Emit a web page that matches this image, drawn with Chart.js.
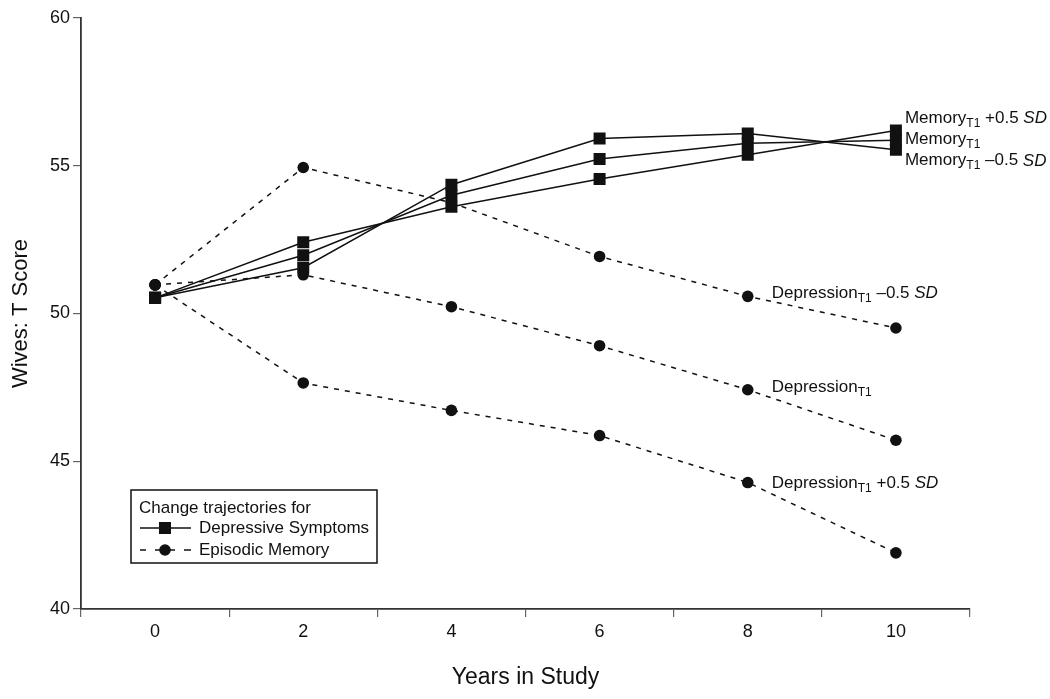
<!DOCTYPE html>
<html>
<head>
<meta charset="utf-8">
<title>Wives: T Score</title>
<script src="https://cdn.jsdelivr.net/npm/chart.js@4.4.0/dist/chart.umd.min.js"></script>
<style>
    html, body { margin: 0; padding: 0; background: #fff; }
    #wrap { width: 1050px; height: 699px; }
</style>
</head>
<body>
<div id="wrap"><canvas id="chart" width="1050" height="699"></canvas></div>
<script>
// Dati
const years = ['0', '2', '4', '6', '8', '10'];
const yTicks = [40, 45, 50, 55, 60];

// Depressive Symptoms (linee continue, quadrati)
const depMemHigh = [50.53, 52.41, 53.61, 54.55, 55.37, 56.19]; // Memory T1 +0.5 SD
const depMemMean = [50.53, 51.97, 54.00, 55.23, 55.76, 55.86]; // Memory T1
const depMemLow  = [50.53, 51.55, 54.36, 55.92, 56.09, 55.54]; // Memory T1 -0.5 SD

// Episodic Memory (linee tratteggiate, cerchi)
const memDepLow  = [50.97, 54.94, 53.75, 51.93, 50.58, 49.51]; // Depression T1 -0.5 SD
const memDepMean = [50.97, 51.31, 50.23, 48.91, 47.42, 45.71]; // Depression T1
const memDepHigh = [50.97, 47.65, 46.72, 45.87, 44.28, 41.90]; // Depression T1 +0.5 SD

const INK = '#111';
const FONT = '"Liberation Sans", Arial, Helvetica, sans-serif';
const DASH = [5, 6];

const solidSet = (data) => ({
    data,
    borderColor: INK,
    borderWidth: 1.5,
    pointStyle: 'rect',
    pointRadius: 8.5,
    pointBackgroundColor: INK,
    pointBorderColor: INK,
    pointBorderWidth: 0,
    fill: false,
    tension: 0
});

const dashedSet = (data) => ({
    data,
    borderColor: INK,
    borderWidth: 1.5,
    borderDash: DASH,
    pointStyle: 'circle',
    pointRadius: 5.8,
    pointBackgroundColor: INK,
    pointBorderColor: INK,
    pointBorderWidth: 0,
    fill: false,
    tension: 0
});

// Testo con pedice e corsivo
const drawRich = (ctx, x, y, parts, size) => {
    let cx = x;
    parts.forEach(p => {
        const fs = p.sub ? Math.round(size * 0.7) : size;
        ctx.font = (p.it ? 'italic ' : '') + fs + 'px ' + FONT;
        ctx.textBaseline = 'middle';
        ctx.textAlign = 'left';
        ctx.fillText(p.t, cx, p.sub ? y + size * 0.3 : y);
        cx += ctx.measureText(p.t).width;
    });
};

const labelsPlugin = {
    id: 'seriesLabels',
    afterDraw(chart) {
        const ctx = chart.ctx;
        const xs = chart.scales.x;
        const ys = chart.scales.y;
        ctx.save();
        ctx.fillStyle = INK;
        const size = 17;

        const x10 = xs.getPixelForValue(5) + 9;
        drawRich(ctx, x10, ys.getPixelForValue(depMemHigh[5]) - 12,
            [{ t: 'Memory' }, { t: 'T1', sub: true }, { t: ' +0.5 ' }, { t: 'SD', it: true }], size);
        drawRich(ctx, x10, ys.getPixelForValue(depMemMean[5]) - 1,
            [{ t: 'Memory' }, { t: 'T1', sub: true }], size);
        drawRich(ctx, x10, ys.getPixelForValue(depMemLow[5]) + 11,
            [{ t: 'Memory' }, { t: 'T1', sub: true }, { t: ' \u20130.5 ' }, { t: 'SD', it: true }], size);

        const x8 = xs.getPixelForValue(4) + 24;
        drawRich(ctx, x8, ys.getPixelForValue(memDepLow[4]) - 3,
            [{ t: 'Depression' }, { t: 'T1', sub: true }, { t: ' \u20130.5 ' }, { t: 'SD', it: true }], size);
        drawRich(ctx, x8, ys.getPixelForValue(memDepMean[4]) - 2,
            [{ t: 'Depression' }, { t: 'T1', sub: true }], size);
        drawRich(ctx, x8, ys.getPixelForValue(memDepHigh[4]) + 1,
            [{ t: 'Depression' }, { t: 'T1', sub: true }, { t: ' +0.5 ' }, { t: 'SD', it: true }], size);

        // Legenda
        const area = chart.chartArea;
        const bx = area.left + 50, by = area.bottom - 119, bw = 246, bh = 73;
        ctx.lineWidth = 1.5;
        ctx.strokeStyle = INK;
        ctx.strokeRect(bx, by, bw, bh);
        ctx.font = size + 'px ' + FONT;
        ctx.textBaseline = 'middle';
        ctx.fillText('Change trajectories for', bx + 8, by + 18);
        ctx.fillText('Depressive Symptoms', bx + 68, by + 38);
        ctx.fillText('Episodic Memory', bx + 68, by + 60);

        // campione linea continua
        ctx.beginPath();
        ctx.moveTo(bx + 9, by + 38);
        ctx.lineTo(bx + 60, by + 38);
        ctx.stroke();
        ctx.fillRect(bx + 34 - 6, by + 38 - 6, 12, 12);

        // campione linea tratteggiata
        ctx.beginPath();
        ctx.moveTo(bx + 9, by + 60); ctx.lineTo(bx + 15, by + 60);
        ctx.moveTo(bx + 24, by + 60); ctx.lineTo(bx + 44, by + 60);
        ctx.moveTo(bx + 53, by + 60); ctx.lineTo(bx + 60, by + 60);
        ctx.stroke();
        ctx.beginPath();
        ctx.arc(bx + 34, by + 60, 5.8, 0, Math.PI * 2);
        ctx.fill();
        ctx.restore();
    }
};

const ctx = document.getElementById('chart').getContext('2d');
new Chart(ctx, {
    type: 'line',
    data: {
        labels: years,
        datasets: [
            dashedSet(memDepLow),
            dashedSet(memDepMean),
            dashedSet(memDepHigh),
            solidSet(depMemHigh),
            solidSet(depMemMean),
            solidSet(depMemLow)
        ]
    },
    options: {
        responsive: false,
        animation: false,
        layout: { padding: { top: 18, right: 80, left: 0, bottom: 0 } },
        plugins: {
            legend: { display: false },
            tooltip: { enabled: false }
        },
        scales: {
            x: {
                type: 'category',
                offset: true,
                afterFit: (s) => { s.height = 90; },
                grid: {
                    offset: true,
                    drawOnChartArea: false,
                    drawTicks: true,
                    tickLength: 8,
                    color: '#666',
                    lineWidth: 1.2
                },
                border: { display: true, color: '#333', width: 1.8 },
                ticks: {
                    color: INK,
                    font: { family: FONT, size: 18 },
                    padding: 4
                },
                title: {
                    display: true,
                    text: 'Years in Study',
                    color: INK,
                    font: { family: FONT, size: 23 },
                    padding: { top: 0, bottom: 8 }
                }
            },
            y: {
                min: 40,
                max: 60,
                afterFit: (s) => { s.width = 81; },
                afterBuildTicks: (s) => { s.ticks = yTicks.map(v => ({ value: v })); },
                grid: {
                    drawOnChartArea: false,
                    drawTicks: true,
                    tickLength: 8,
                    color: '#666',
                    lineWidth: 1.2
                },
                border: { display: true, color: '#333', width: 1.8 },
                ticks: {
                    color: INK,
                    font: { family: FONT, size: 18 },
                    padding: 3
                },
                title: {
                    display: true,
                    text: 'Wives: T Score',
                    color: INK,
                    font: { family: FONT, size: 22 },
                    padding: { top: 8, bottom: 0 }
                }
            }
        }
    },
    plugins: [labelsPlugin]
});
</script>
</body>
</html>
